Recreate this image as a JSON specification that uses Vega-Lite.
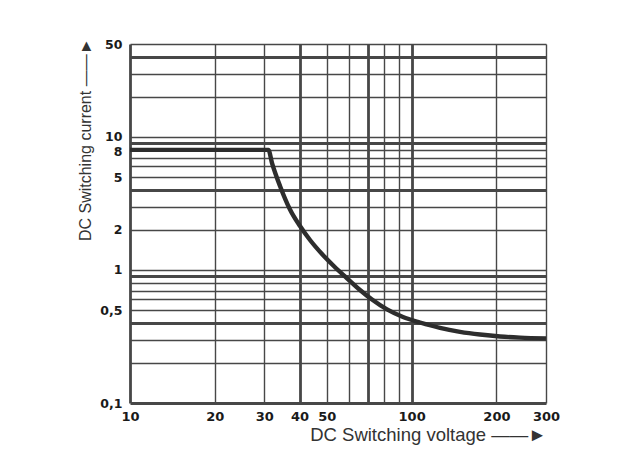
{
  "$schema": "https://vega.github.io/schema/vega-lite/v6.json",
  "width": 416,
  "height": 359,
  "autosize": "none",
  "padding": {"left": 130, "top": 44, "right": 73, "bottom": 67},
  "background": "white",
  "config": {"view": {"stroke": null}},
  "data": {
    "values": [
      {"voltage": 10, "current": 8},
      {"voltage": 31, "current": 8},
      {"voltage": 31.94, "current": 6.37},
      {"voltage": 34.09, "current": 4.28},
      {"voltage": 36.99, "current": 2.85},
      {"voltage": 40.14, "current": 2.14},
      {"voltage": 43.57, "current": 1.68},
      {"voltage": 48.06, "current": 1.318},
      {"voltage": 53.02, "current": 1.067},
      {"voltage": 58.95, "current": 0.866},
      {"voltage": 65.56, "current": 0.707},
      {"voltage": 72.33, "current": 0.599},
      {"voltage": 81.76, "current": 0.505},
      {"voltage": 93.19, "current": 0.443},
      {"voltage": 107.1, "current": 0.403},
      {"voltage": 126.1, "current": 0.367},
      {"voltage": 148.5, "current": 0.343},
      {"voltage": 174.9, "current": 0.327},
      {"voltage": 206, "current": 0.316},
      {"voltage": 242.6, "current": 0.310},
      {"voltage": 300, "current": 0.306}
    ]
  },
  "mark": {"type": "line", "interpolate": "monotone", "color": "#2d2d2d", "strokeWidth": 4.4, "strokeJoin": "miter", "clip": false},
  "encoding": {
    "x": {
      "field": "voltage",
      "type": "quantitative",
      "scale": {"type": "log", "domain": [10, 300], "nice": false},
      "axis": {
        "values": [10, 20, 30, 40, 50, 60, 70, 80, 90, 100, 200, 300],
        "grid": true,
        "gridColor": "#474747",
        "gridOpacity": 1,
        "gridWidth": {"condition": {"test": "datum.value == 10 || datum.value == 40 || datum.value == 70 || datum.value == 100", "value": 2.8}, "value": 1.4},
        "domain": false,
        "ticks": false,
        "labelFlush": false,
        "labelOverlap": false,
        "labelExpr": "indexof([60, 70, 80, 90], datum.value) >= 0 ? '' : toString(datum.value)",
        "labelFont": "DejaVu Sans",
        "labelFontWeight": "bold",
        "labelFontSize": 13,
        "labelColor": "#1a1a1a",
        "labelPadding": 7,
        "title": "DC Switching voltage ——►",
        "titleFont": "Liberation Sans",
        "titleFontWeight": "normal",
        "titleFontSize": 18.5,
        "titleColor": "#333333",
        "titleX": 416,
        "titleY": 37.5,
        "titleAlign": "right",
        "titleBaseline": "alphabetic",
        "titleAnchor": "end"
      }
    },
    "y": {
      "field": "current",
      "type": "quantitative",
      "scale": {"type": "log", "domain": [0.1, 50], "nice": false},
      "axis": {
        "values": [0.1, 0.2, 0.3, 0.4, 0.5, 0.6, 0.7, 0.8, 0.9, 1, 2, 3, 4, 5, 6, 7, 8, 9, 10, 20, 30, 40, 50],
        "grid": true,
        "gridColor": "#474747",
        "gridOpacity": 1,
        "gridWidth": {"condition": {"test": "datum.value == 40 || datum.value == 9 || datum.value == 4 || datum.value == 0.9 || datum.value == 0.4 || datum.value == 0.1", "value": 2.8}, "value": 1.4},
        "domain": false,
        "ticks": false,
        "labelFlush": false,
        "labelOverlap": false,
        "labelExpr": "indexof([0.1, 0.5, 1, 2, 5, 8, 10, 50], datum.value) >= 0 ? replace(toString(datum.value), '.', ',') : ''",
        "labelOffset": {"condition": {"test": "datum.value == 8", "value": 2}, "value": 0},
        "labelFont": "DejaVu Sans",
        "labelFontWeight": "bold",
        "labelFontSize": 12.5,
        "labelColor": "#1a1a1a",
        "labelPadding": 8,
        "title": "DC Switching current ——►",
        "titleFont": "Liberation Sans",
        "titleFontWeight": "normal",
        "titleFontSize": 16,
        "titleColor": "#333333",
        "titleAngle": 270,
        "titleX": -40,
        "titleY": -6,
        "titleAlign": "right",
        "titleBaseline": "alphabetic",
        "titleAnchor": "end"
      }
    }
  }
}
